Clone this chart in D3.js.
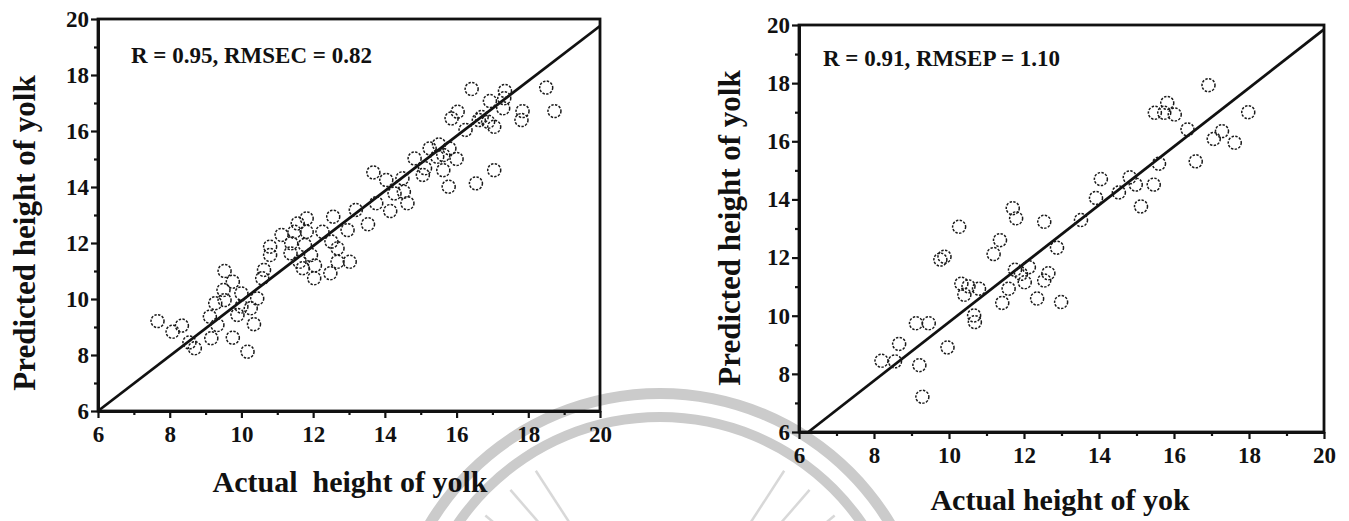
<!DOCTYPE html>
<html>
<head>
<meta charset="utf-8">
<script src="https://cdn.jsdelivr.net/npm/d3@7"></script>
<style>
  html, body { margin: 0; padding: 0; background: #fff; }
  svg { display: block; }
  text { font-family: "Liberation Serif", "Times New Roman", serif; font-weight: bold; fill: #111; }
</style>
</head>
<body>
<svg id="chart" width="1349" height="521"></svg>
<script>
// Calibration set: actual vs predicted yolk height
const calActual = [
  7.66, 8.08, 8.34, 8.55, 8.70, 9.16, 9.76, 10.17, 10.35, 10.26, 10.44, 10.00, 9.89,
  9.53, 9.76, 9.50, 9.53, 9.27, 9.12, 9.33, 10.00, 10.63, 10.58, 10.80, 10.80, 11.12,
  11.39, 11.37, 11.57, 11.82, 11.82, 11.71, 12.05, 12.03, 11.94, 11.77, 12.26, 12.56,
  12.48, 12.68, 12.68, 12.51, 12.96, 13.02, 13.19, 13.53, 13.68, 13.76, 14.04, 14.15,
  14.27, 14.49, 14.53, 14.63, 14.83, 15.06, 15.12, 15.25, 15.51, 15.46, 15.63, 15.78,
  15.80, 16.00, 15.86, 16.03, 16.25, 16.42, 16.54, 16.62, 16.88, 16.93, 17.05, 17.05,
  17.30, 17.35, 17.33, 17.84, 17.81, 18.50, 18.73, 11.48, 11.62, 16.70, 15.63
];
const calPredicted = [
  9.21, 8.83, 9.05, 8.45, 8.24, 8.60, 8.62, 8.12, 9.10, 9.67, 10.02, 10.20, 9.43,
  11.00, 10.62, 10.32, 9.96, 9.85, 9.37, 9.07, 9.73, 11.04, 10.74, 11.57, 11.87, 12.29,
  11.99, 11.63, 12.70, 12.88, 12.40, 11.10, 11.20, 10.74, 11.57, 11.93, 12.40, 12.94,
  10.92, 11.81, 11.33, 12.05, 12.46, 11.33, 13.18, 12.67, 14.52, 13.42, 14.25, 13.14,
  13.77, 14.31, 13.83, 13.42, 15.02, 14.43, 14.67, 15.38, 15.52, 15.08, 14.60, 14.01,
  15.38, 15.00, 16.45, 16.69, 16.04, 17.50, 14.13, 16.39, 16.33, 17.07, 16.15, 14.60,
  16.81, 17.43, 17.17, 16.71, 16.39, 17.55, 16.71, 12.40, 11.33, 16.50, 15.14
];

// Prediction set: actual vs predicted yolk height
const predActual = [
  8.20, 8.56, 8.67, 9.21, 9.29, 9.12, 9.46, 9.96, 9.77, 9.88, 10.27, 10.33, 10.52,
  10.41, 10.80, 10.67, 10.69, 11.19, 11.36, 11.42, 11.59, 11.70, 11.79, 11.76, 11.92,
  12.02, 12.13, 12.35, 12.54, 12.54, 12.65, 12.88, 12.99, 13.52, 13.92, 14.05, 14.53,
  14.82, 14.98, 15.12, 15.46, 15.49, 15.60, 15.82, 15.74, 16.02, 16.36, 16.58, 16.92,
  17.06, 17.28, 17.62, 17.98
];
const predPredicted = [
  8.45, 8.43, 9.03, 8.30, 7.21, 9.74, 9.74, 8.91, 11.93, 12.03, 13.06, 11.10, 11.01,
  10.72, 10.93, 10.01, 9.78, 12.12, 12.60, 10.44, 10.93, 13.70, 13.35, 11.58, 11.44,
  11.15, 11.67, 10.59, 13.23, 11.21, 11.46, 12.34, 10.47, 13.29, 14.05, 14.70, 14.24,
  14.76, 14.51, 13.76, 14.51, 16.98, 15.23, 17.32, 16.98, 16.92, 16.41, 15.31, 17.93,
  16.08, 16.35, 15.95, 17.00
];

// Fitted lines, as [actual, predicted] end points
const calLine = [[6.0, 6.0], [20.0, 19.75]];
const predLine = [[6.25, 6.0], [20.0, 19.85]];

// Axis ticks
const majorTicks = [6, 8, 10, 12, 14, 16, 18, 20];
const minorTicks = [7, 9, 11, 13, 15, 17, 19];
const domainRange = [6, 20];

// Panel texts
const calStats = "R = 0.95, RMSEC = 0.82";
const predStats = "R = 0.91, RMSEP = 1.10";
const yTitle = "Predicted height of yolk";
const calXTitle = "Actual\u00a0 height of yolk";
const predXTitle = "Actual height of yok";

const svg = d3.select("#chart");

// Faint circular seal behind everything
(function drawSeal() {
  const cx = 660, cy = 662;
  const g = svg.append("g").attr("transform", `translate(${cx},${cy})`);
  const ringArc = d3.arc().startAngle(-Math.PI).endAngle(Math.PI);
  g.append("path")
    .attr("d", ringArc.innerRadius(263).outerRadius(274)())
    .attr("fill", "#cbcbcb");
  g.append("path")
    .attr("d", ringArc.innerRadius(240).outerRadius(250)())
    .attr("fill", "#cbcbcb");
  const rayAngles = [-150, -140, -131, -123, -57, -49, -40, -30];
  g.selectAll("line.ray")
    .data(rayAngles)
    .join("line")
    .attr("class", "ray")
    .attr("x1", a => 120 * Math.cos(a * Math.PI / 180))
    .attr("y1", a => 120 * Math.sin(a * Math.PI / 180))
    .attr("x2", a => 228 * Math.cos(a * Math.PI / 180))
    .attr("y2", a => 228 * Math.sin(a * Math.PI / 180))
    .attr("stroke", "#d8d8d8")
    .attr("stroke-width", 2.5);
})();

function drawPanel(cfg) {
  const x = d3.scaleLinear().domain(domainRange).range([cfg.left, cfg.right]);
  const y = d3.scaleLinear().domain(domainRange).range([cfg.bottom, cfg.top]);
  const g = svg.append("g");

  // frame
  g.append("rect")
    .attr("x", cfg.left).attr("y", cfg.top)
    .attr("width", cfg.right - cfg.left).attr("height", cfg.bottom - cfg.top)
    .attr("fill", "none").attr("stroke", "#111").attr("stroke-width", 2.8);

  const fmt = d3.format("d");

  // bottom axis: major + minor ticks
  const xMajor = g.append("g").attr("transform", `translate(0,${cfg.bottom})`)
    .call(d3.axisBottom(x).tickValues(majorTicks).tickSize(7).tickSizeOuter(0).tickPadding(8).tickFormat(fmt));
  const xMinor = g.append("g").attr("transform", `translate(0,${cfg.bottom})`)
    .call(d3.axisBottom(x).tickValues(minorTicks).tickSize(4).tickSizeOuter(0).tickFormat(""));

  // left axis: major + minor ticks
  const yMajor = g.append("g").attr("transform", `translate(${cfg.left},0)`)
    .call(d3.axisLeft(y).tickValues(majorTicks).tickSize(7).tickSizeOuter(0).tickPadding(2).tickFormat(fmt));
  const yMinor = g.append("g").attr("transform", `translate(${cfg.left},0)`)
    .call(d3.axisLeft(y).tickValues(minorTicks).tickSize(4).tickSizeOuter(0).tickFormat(""));

  [xMajor, xMinor, yMajor, yMinor].forEach(a => {
    a.select(".domain").attr("stroke", "#111").attr("stroke-width", 2.8);
    a.selectAll(".tick line").attr("stroke", "#111").attr("stroke-width", 2.2);
    a.selectAll(".tick text")
      .attr("font-size", 23)
      .attr("font-family", "Liberation Serif, Times New Roman, serif")
      .attr("font-weight", "bold")
      .attr("fill", "#111");
  });

  // fitted line
  g.append("path")
    .datum(cfg.line)
    .attr("d", d3.line().x(d => x(d[0])).y(d => y(d[1])))
    .attr("fill", "none").attr("stroke", "#111").attr("stroke-width", 2.8);

  // samples
  g.append("g").selectAll("circle")
    .data(d3.zip(cfg.actual, cfg.predicted))
    .join("circle")
    .attr("cx", d => x(d[0]))
    .attr("cy", d => y(d[1]))
    .attr("r", 6.5)
    .attr("fill", "none")
    .attr("stroke", "#1a1a1a")
    .attr("stroke-width", 1.5)
    .attr("stroke-dasharray", "2.4 1.4");

  // statistics
  g.append("text")
    .attr("x", cfg.statsX).attr("y", cfg.statsY)
    .attr("font-size", 23)
    .text(cfg.stats);

  // axis titles
  g.append("text")
    .attr("x", cfg.xTitleX).attr("y", cfg.xTitleY)
    .attr("text-anchor", "middle")
    .attr("font-size", 30)
    .text(cfg.xTitle);
  g.append("text")
    .attr("transform", `translate(${cfg.yTitleX},${cfg.yTitleY}) rotate(-90)`)
    .attr("text-anchor", "middle")
    .attr("font-size", 31)
    .text(yTitle);
}

drawPanel({
  left: 98, right: 600, top: 19, bottom: 411,
  actual: calActual, predicted: calPredicted, line: calLine,
  stats: calStats, statsX: 131, statsY: 63,
  xTitle: calXTitle, xTitleX: 350, xTitleY: 492,
  yTitleX: 35, yTitleY: 233
});

drawPanel({
  left: 799, right: 1324, top: 25, bottom: 432,
  actual: predActual, predicted: predPredicted, line: predLine,
  stats: predStats, statsX: 823, statsY: 66,
  xTitle: predXTitle, xTitleX: 1060, xTitleY: 510,
  yTitleX: 740, yTitleY: 228
});
</script>
</body>
</html>
